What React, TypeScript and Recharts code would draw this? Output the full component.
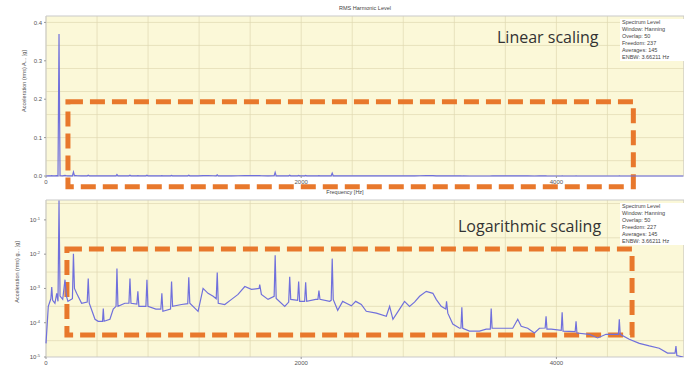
import React from 'react';
import {
  LineChart,
  Line,
  XAxis,
  YAxis,
  CartesianGrid,
  ReferenceArea,
} from 'recharts';

// spectrum (frequency in Hz, acceleration in g)
const freqHz = [
  0, 18, 38, 45, 52, 70, 84, 94, 102, 110, 131, 149, 160, 172, 207, 215, 223, 240, 279, 323,
  331, 339, 384, 409, 443, 449, 455, 501, 527, 549, 556, 564, 618, 650, 658, 666, 712, 720,
  728, 783, 791, 799, 861, 900, 908, 916, 976, 984, 992, 1062, 1111, 1119, 1127, 1192, 1231,
  1270, 1310, 1334, 1342, 1350, 1401, 1454, 1505, 1558, 1610, 1670, 1675, 1688, 1740, 1788,
  1796, 1804, 1871, 1902, 1910, 1918, 1972, 1980, 1988, 2027, 2035, 2043, 2114, 2131, 2139,
  2147, 2223, 2235, 2243, 2251, 2286, 2325, 2354, 2393, 2427, 2471, 2510, 2589, 2667, 2693,
  2719, 2771, 2810, 2849, 2888, 2928, 2980, 3032, 3058, 3097, 3133, 3139, 3149, 3188, 3241,
  3252, 3259, 3266, 3319, 3397, 3450, 3482, 3489, 3496, 3567, 3658, 3697, 3724, 3775, 3828,
  3867, 3912, 3919, 3926, 3959, 4038, 4045, 4052, 4147, 4154, 4161, 4258, 4323, 4389, 4441,
  4486, 4493, 4500, 4571, 4650, 4728, 4806, 4871, 4930, 4937, 4944, 4994,
];
const accelG = [
  2.5e-5, 3.0e-4, 5.0e-4, 1.1e-3, 4.5e-4, 3.7e-4, 7.2e-4, 4.2e-4, 0.37, 6.0e-4, 4.8e-4, 1.8e-3,
  6.0e-4, 4.2e-4, 5.0e-4, 0.0103, 1.0e-3, 7.2e-4, 3.7e-4, 4.0e-4, 1.95e-3, 3.7e-4, 1.26e-4,
  1.1e-4, 1.1e-4, 2.6e-4, 1.1e-4, 1.26e-4, 2.5e-4, 3.0e-4, 3.8e-3, 3.0e-4, 3.7e-4, 3.7e-4,
  1.95e-3, 3.7e-4, 3.5e-4, 8.2e-4, 3.0e-4, 3.0e-4, 1.8e-3, 3.0e-4, 2.5e-4, 2.5e-4, 7.2e-4,
  2.15e-4, 2.5e-4, 1.6e-3, 3.0e-4, 3.4e-4, 3.6e-4, 2.1e-3, 3.7e-4, 2.15e-4, 1.0e-3, 7.2e-4,
  5.9e-4, 5.0e-4, 2.9e-3, 3.7e-4, 3.4e-4, 4.8e-4, 6.7e-4, 1.14e-3, 9.4e-4, 1.0e-3, 1.3e-3,
  6.7e-4, 4.8e-4, 5.9e-4, 9.3e-3, 5.1e-4, 3.0e-4, 4.0e-4, 2.2e-3, 4.8e-4, 4.5e-4, 1.6e-3,
  4.2e-4, 4.2e-4, 1.5e-3, 4.2e-4, 4.8e-4, 4.8e-4, 8.7e-4, 4.8e-4, 4.2e-4, 4.5e-4, 7.4e-3,
  4.8e-4, 2.3e-4, 4.2e-4, 3.7e-4, 3.1e-4, 4.2e-4, 3.4e-4, 2.15e-4, 1.9e-4, 1.54e-4, 3.0e-4,
  1.26e-4, 2.5e-4, 4.2e-4, 3.0e-4, 4.0e-4, 5.9e-4, 8.2e-4, 7.2e-4, 4.8e-4, 3.0e-4, 2.5e-4,
  4.2e-4, 1.9e-4, 9.1e-5, 6.9e-5, 7.0e-5, 2.8e-4, 6.9e-5, 5.7e-5, 5.7e-5, 6.5e-5, 6.5e-5,
  2.6e-4, 6.9e-5, 6.9e-5, 6.9e-5, 1.26e-4, 7.9e-5, 6.9e-5, 5.0e-5, 6.9e-5, 7.0e-5, 1.54e-4,
  6.5e-5, 6.5e-5, 6.0e-5, 2.0e-4, 5.7e-5, 5.5e-5, 1.1e-4, 5.0e-5, 4.6e-5, 3.6e-5, 4.6e-5,
  4.6e-5, 4.6e-5, 1.26e-4, 4.6e-5, 3.3e-5, 2.5e-5, 2.1e-5, 1.8e-5, 1.3e-5, 1.3e-5, 2.1e-5,
  1.1e-5, 1.0e-5,
];

const xTicks = [0, 2000, 4000];
const linTicks = [0, 0.1, 0.2, 0.3, 0.4];
const logTicks = [1e-5, 1e-4, 1e-3, 1e-2, 1e-1];
const logExp = ['-5', '-4', '-3', '-2', '-1'];

const infoTop = ['Spectrum Level', 'Window: Hanning', 'Overlap: 50', 'Freedom: 237', 'Averages: 145', 'ENBW: 3.66211 Hz'];
const infoBottom = ['Spectrum Level', 'Window: Hanning', 'Overlap: 50', 'Freedom: 227', 'Averages: 145', 'ENBW: 3.66211 Hz'];

const data = freqHz.map((f, i) => ({ f, a: accelG[i] }));

const vGrid: number[] = [];
for (let f = 0; f <= 5000; f += 200) vGrid.push(f);
const hGridLin: number[] = [];
for (let v = 0; v <= 0.42; v += 0.02) hGridLin.push(+v.toFixed(2));
const hGridLog: number[] = [];
logTicks.forEach((t) => { hGridLog.push(t, t * 3); });

const BG = '#fbf8d8';
const GRID = '#dfd9b2';
const LINE = '#7070dc';
const ORANGE = '#e8782c';
const FONT = 'Liberation Sans, Arial, sans-serif';
const tickStyle = { fontSize: 6, fill: '#555', fontFamily: FONT };

const LogTick = (props: any) => {
  const { x, y, payload } = props;
  const i = logTicks.indexOf(payload.value);
  return (
    <text x={x - 2} y={y + 2} textAnchor="end" style={tickStyle}>
      10<tspan dy={-2} fontSize={4}>{logExp[i]}</tspan>
    </text>
  );
};

const infoBox = (lines: string[], top: number) => (
  <div
    style={{
      position: 'absolute', left: 620, top, width: 62, background: '#fff',
      fontFamily: FONT, fontSize: 5.5, lineHeight: '7px', color: '#444', paddingLeft: 2,
    }}
  >
    {lines.map((l) => <div key={l}>{l}</div>)}
  </div>
);

const vLabel = (text: string, left: number, centerY: number) => (
  <div
    style={{
      position: 'absolute', left: left - 60, top: centerY - 4, width: 120, textAlign: 'center',
      transform: 'rotate(-90deg)', fontFamily: FONT, fontSize: 5.5, color: '#555',
    }}
  >
    {text}
  </div>
);

const bigText = { position: 'absolute' as const, fontFamily: 'Open Sans, sans-serif', fontSize: 16, color: '#333', whiteSpace: 'nowrap' as const };

export default function App() {
  return (
    <div style={{ position: 'absolute', left: 0, top: 0, width: 684, height: 366, background: '#fff', overflow: 'hidden' }}>
      {/* linear */}
      <div style={{ position: 'absolute', left: 0, top: 0 }}>
        <LineChart width={684} height={198} data={data} margin={{ top: 16, right: 0, bottom: 0, left: 20 }}>
          <CartesianGrid fill={BG} fillOpacity={1} stroke={GRID} strokeWidth={0.7}
            verticalValues={vGrid} horizontalValues={hGridLin} />
          <XAxis dataKey="f" type="number" domain={[0, 5000]} ticks={xTicks} height={22}
            tick={tickStyle} tickSize={2} axisLine={false} tickLine={{ stroke: '#999' }} />
          <YAxis type="number" domain={[0, 0.4167]} ticks={linTicks} width={26}
            tick={tickStyle} tickSize={2} axisLine={false} tickLine={{ stroke: '#999' }}
            tickFormatter={(v: number) => v.toFixed(1)} />
          <ReferenceArea x1={0} x2={5000} y1={0} y2={0.4167} fill="none" stroke="#c9c9c9" strokeWidth={1} />
          <Line type="linear" dataKey="a" stroke={LINE} strokeWidth={1.2} dot={false} isAnimationActive={false} />
          <ReferenceArea x1={172} x2={4603} y1={-0.028} y2={0.1935} ifOverflow="visible"
            fill="none" stroke={ORANGE} strokeWidth={5} strokeDasharray="15 7" />
        </LineChart>
      </div>
      {/* log */}
      <div style={{ position: 'absolute', left: 0, top: 190 }}>
        <LineChart width={684} height={196} data={data} margin={{ top: 10, right: 0, bottom: 0, left: 20 }}>
          <CartesianGrid fill={BG} fillOpacity={1} stroke={GRID} strokeWidth={0.7}
            verticalValues={vGrid} horizontalValues={hGridLog} />
          <XAxis dataKey="f" type="number" domain={[0, 5000]} ticks={xTicks} height={29}
            tick={tickStyle} tickSize={2} axisLine={false} tickLine={{ stroke: '#999' }} />
          <YAxis type="number" scale="log" domain={[1e-5, 0.38]} ticks={logTicks} width={26}
            allowDataOverflow tick={<LogTick />} tickSize={2} axisLine={false} tickLine={{ stroke: '#999' }} />
          <ReferenceArea x1={0} x2={5000} y1={1e-5} y2={0.38} fill="none" stroke="#c9c9c9" strokeWidth={1} />
          <Line type="linear" dataKey="a" stroke={LINE} strokeWidth={1.2} dot={false} isAnimationActive={false} />
          <ReferenceArea x1={164} x2={4593} y1={4.4e-5} y2={0.0141} ifOverflow="visible"
            fill="none" stroke={ORANGE} strokeWidth={5} strokeDasharray="15 7" />
        </LineChart>
      </div>

      <div style={{ position: 'absolute', left: 305, top: 5, width: 120, textAlign: 'center', fontFamily: FONT, fontSize: 5.5, color: '#444' }}>
        RMS Harmonic Level
      </div>
      <div style={{ position: 'absolute', left: 285, top: 189, width: 120, textAlign: 'center', fontFamily: FONT, fontSize: 5.5, color: '#444' }}>
        Frequency [Hz]
      </div>
      {vLabel('Acceleration (rms) A... [g]', 24, 82)}
      {vLabel('Acceleration (rms) g... [g]', 17, 273)}

      <div style={{ ...bigText, left: 497, top: 26 }}>Linear scaling</div>
      <div style={{ ...bigText, left: 458, top: 215 }}>Logarithmic scaling</div>
      {infoBox(infoTop, 19)}
      {infoBox(infoBottom, 203)}
    </div>
  );
}
